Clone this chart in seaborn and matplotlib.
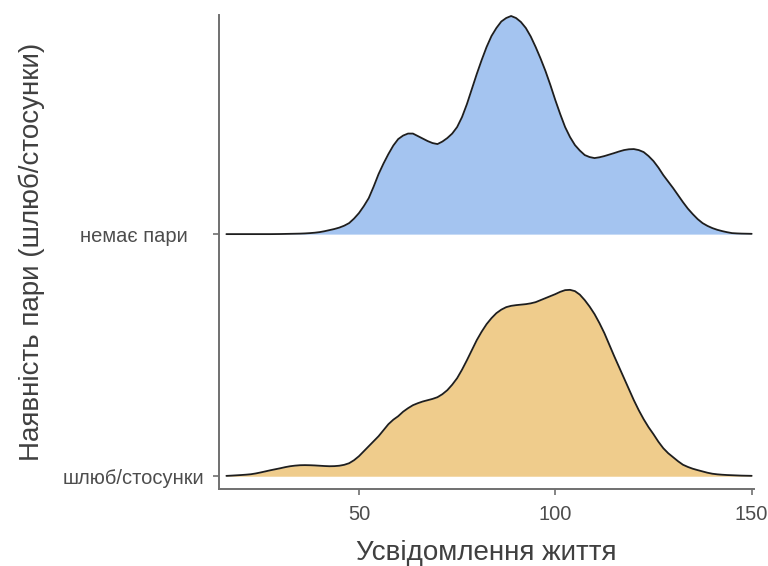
import matplotlib
matplotlib.use("Agg")
import numpy as np
import pandas as pd
import matplotlib.pyplot as plt
import seaborn as sns

# Life-meaningfulness score grid on which the ridge densities are given
score = [16.25, 17.5, 18.75, 20, 21.25, 22.5, 23.75, 25,
         26.25, 27.5, 28.75, 30, 31.25, 32.5, 33.75, 35,
         36.25, 37.5, 38.75, 40, 41.25, 42.5, 43.75, 45,
         46.25, 47.5, 48.75, 50, 51.25, 52.5, 53.75, 55,
         56.25, 57.5, 58.75, 60, 61.25, 62.5, 63.75, 65,
         66.25, 67.5, 68.75, 70, 71.25, 72.5, 73.75, 75,
         76.25, 77.5, 78.75, 80, 81.25, 82.5, 83.75, 85,
         86.25, 87.5, 88.75, 90, 91.25, 92.5, 93.75, 95,
         96.25, 97.5, 98.75, 100, 101.25, 102.5, 103.75, 105,
         106.25, 107.5, 108.75, 110, 111.25, 112.5, 113.75, 115,
         116.25, 117.5, 118.75, 120, 121.25, 122.5, 123.75, 125,
         126.25, 127.5, 128.75, 130, 131.25, 132.5, 133.75, 135,
         136.25, 137.5, 138.75, 140, 141.25, 142.5, 143.75, 145,
         146.25, 147.5, 148.75, 150]

# Ridge heights (relative density units): no partner
dens_none = [0, 0, 0, 0, 0, 0, 0, 0,
             0, 0, 0.05, 0.1, 0.2, 0.3, 0.4, 0.5,
             0.7, 1, 1.4, 2, 2.9, 4, 5.1, 6.5,
             8.4, 11, 15.5, 21, 28, 36, 47.5, 60,
             70.5, 80, 88.5, 95, 98.5, 100.5, 100.5, 98,
             95.5, 93, 91, 90, 92.5, 96, 100.5, 107,
             117, 130, 145, 160, 174, 187, 198, 206,
             212.5, 216, 218, 216, 212, 206, 197.5, 187,
             175.5, 163, 149, 134, 120, 107, 97, 89,
             83.5, 79, 77, 76, 76.8, 78, 79.5, 81,
             82.6, 84, 84.8, 85, 84, 82, 78, 73,
             66.5, 59, 52.5, 46, 39, 32, 25.5, 20,
             15, 11, 8.2, 6, 4.3, 3, 1.9, 1,
             0.7, 0.5, 0.4, 0.3]

# Ridge heights (relative density units): marriage / relationship
dens_couple = [0.35, 0.6, 0.9, 1.2, 1.55, 2, 2.8, 3.8,
               4.9, 6, 7, 8, 9.1, 10, 10.6, 11,
               11.1, 11, 10.8, 10.5, 10.2, 10, 10.1, 10.5,
               11.4, 13, 16, 20, 25, 30, 35, 40,
               46, 52, 56.5, 60, 64.5, 68, 71, 73,
               74.7, 76, 77.3, 79, 82, 86, 91.5, 98,
               106.5, 116, 126, 136, 144.5, 152, 158, 163,
               166.5, 169, 170.3, 171, 171.5, 172, 172.8, 174,
               176, 178, 180, 182, 184.3, 186, 186.3, 185,
               181.5, 176, 169.5, 162, 153, 143, 131.5, 120,
               109, 98, 87, 76, 66, 57, 49, 42,
               34.5, 28, 23, 19, 15, 11.5, 9.3, 7.5,
               6.1, 4.8, 3.5, 2.5, 1.9, 1.5, 1.2, 1,
               0.8, 0.6, 0.5, 0.4]

groups = ["шлюб/стосунки", "немає пари"]
group_labels = ["шлюб/стосунки", "немає пари   "]
fill_colors = ["#EFCC8C", "#A4C4F0"]

x_ticks = [50, 100, 150]
ROW_HEIGHT = 242.0  # density units that span one row of the ridgeline

rows = []
for pos, (name, dens) in enumerate(zip(groups, [dens_couple, dens_none]), start=1):
    for s, d in zip(score, dens):
        rows.append({"score": s, "group": name, "base": pos,
                     "ridge": pos + d / ROW_HEIGHT})
df = pd.DataFrame(rows)

sns.set_theme(style="ticks")
plt.rcParams["font.family"] = ["Liberation Sans", "DejaVu Sans"]

fig = plt.figure(figsize=(7.68, 5.66), dpi=100)
ax = fig.add_axes([0.2848, 0.1355, 0.6970, 0.8380])

for name, color in zip(groups, fill_colors):
    sub = df[df["group"] == name]
    ax.fill_between(sub["score"], sub["base"], sub["ridge"],
                    color=color, linewidth=0, zorder=1)

sns.lineplot(data=df, x="score", y="ridge", units="group", estimator=None,
             color="#1e1e1e", linewidth=1.3, ax=ax, zorder=2, legend=False)

ax.set_xlim(14.3, 150.6)
ax.set_ylim(0.946, 2.905)
ax.set_xticks(x_ticks)
ax.set_xticklabels([str(t) for t in x_ticks])
ax.set_yticks([1, 2])
ax.set_yticklabels(group_labels)

sns.despine(ax=ax)
for side in ["left", "bottom"]:
    ax.spines[side].set_color("#707070")
    ax.spines[side].set_linewidth(1.4)

ax.tick_params(axis="both", colors="#707070", labelcolor="#4d4d4d",
               labelsize=14.5, length=4.5, width=1.2)
ax.tick_params(axis="x", pad=7)
ax.tick_params(axis="y", pad=6)

ax.set_xlabel("Усвідомлення життя", fontsize=20, color="#404040", labelpad=11)
ax.set_ylabel("Наявність пари (шлюб/стосунки)", fontsize=20, color="#404040")
ax.yaxis.set_label_coords(-0.325, 0.5)

fig.savefig("out.png", dpi=100)
